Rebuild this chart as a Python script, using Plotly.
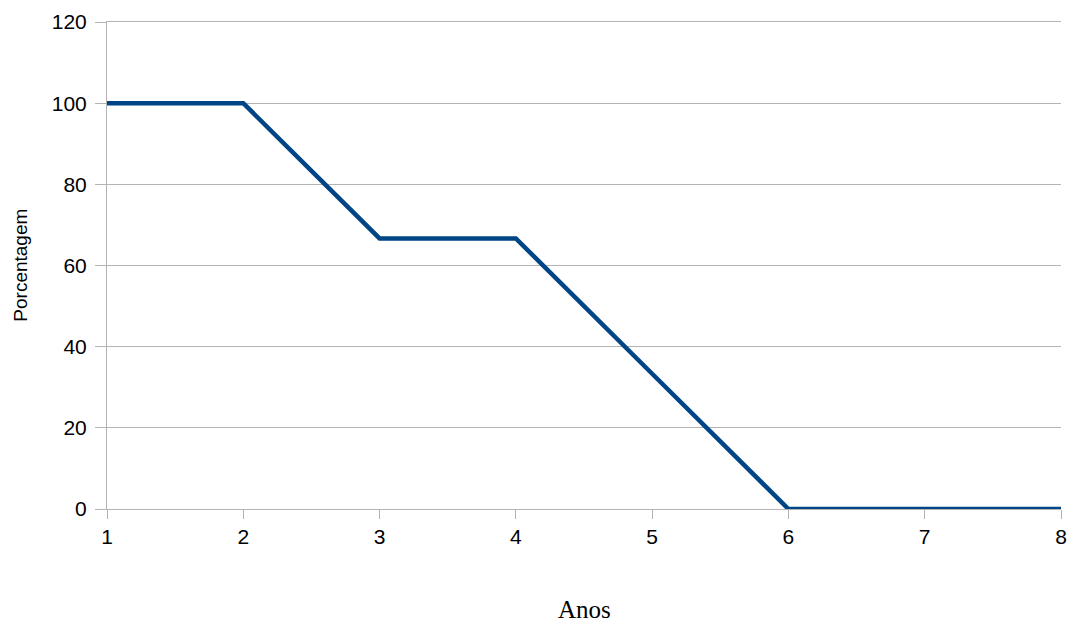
import plotly.graph_objects as go

anos = [1, 2, 3, 4, 5, 6, 7, 8]
porcentagem = [100, 100, 66.67, 66.67, 33.33, 0, 0, 0]
y_ticks = [0, 20, 40, 60, 80, 100, 120]
x_ticks = [1, 2, 3, 4, 5, 6, 7, 8]

fig = go.Figure()
fig.add_trace(go.Scatter(x=anos, y=porcentagem, mode="lines",
                         line=dict(color="#004586", width=4.5), showlegend=False))

fig.update_layout(
    width=1072, height=626,
    margin=dict(l=107, r=11, t=22, b=117),
    paper_bgcolor="white", plot_bgcolor="white",
    font=dict(family="Liberation Sans, Arial, sans-serif", size=21, color="black"),
    xaxis=dict(range=[1, 8], tickvals=x_ticks, showgrid=False, automargin=False,
               showline=True, linecolor="#b3b3b3", linewidth=1, mirror=True,
               ticks="outside", ticklen=9, tickcolor="#b3b3b3", zeroline=False,
               ticklabeloverflow="allow"),
    yaxis=dict(range=[0, 120], tickvals=y_ticks, showgrid=True, gridcolor="#b3b3b3",
               gridwidth=1, showline=True, linecolor="#b3b3b3", linewidth=1,
               ticks="outside", ticklen=11, tickcolor="#b3b3b3", zeroline=False,
               ticklabelstandoff=4, automargin=False, ticklabeloverflow="allow"),
    annotations=[
        dict(text="Anos", xref="paper", yref="paper", x=0.5, y=-0.207,
             xanchor="center", yanchor="middle", showarrow=False,
             font=dict(family="Liberation Serif, Times New Roman, serif", size=25)),
        dict(text="Porcentagem", xref="paper", yref="paper", x=-0.091, y=0.5,
             xanchor="center", yanchor="middle", showarrow=False, textangle=-90,
             font=dict(family="Liberation Sans, Arial, sans-serif", size=19)),
    ],
)
fig.write_html("out.html", config={"displayModeBar": False},
               post_script="document.body.style.margin='0';document.body.style.overflow='hidden';")
